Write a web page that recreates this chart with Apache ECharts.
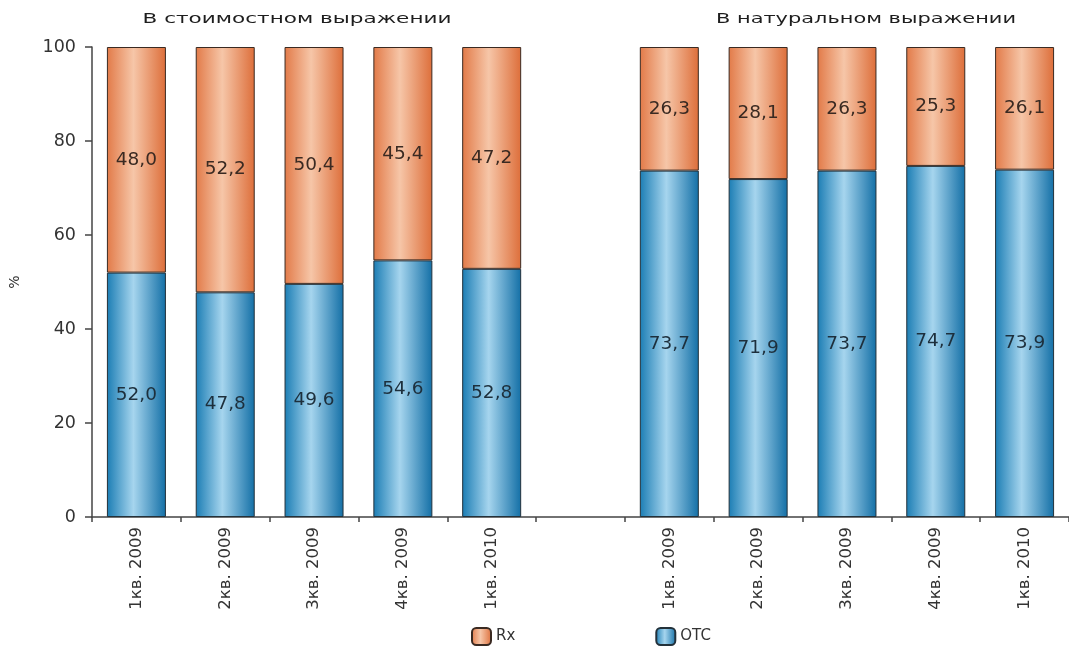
<!DOCTYPE html>
<html>
<head>
<meta charset="utf-8">
<script src="https://cdn.jsdelivr.net/npm/echarts@6/dist/echarts.min.js"></script>
<style>
  html, body { margin: 0; padding: 0; background: #fff; }
  #chart { width: 1069px; height: 653px; }
</style>
</head>
<body>
<div id="chart"></div>
<script>
// Quarter labels; the empty slot separates the two panels
const categories = ['1кв. 2009', '2кв. 2009', '3кв. 2009', '4кв. 2009', '1кв. 2010', '',
                    '1кв. 2009', '2кв. 2009', '3кв. 2009', '4кв. 2009', '1кв. 2010'];
// Shares, %: value terms (first five), gap, volume terms (last five)
const otcValues = [52.0, 47.8, 49.6, 54.6, 52.8, null, 73.7, 71.9, 73.7, 74.7, 73.9];
const rxValues  = [48.0, 52.2, 50.4, 45.4, 47.2, null, 26.3, 28.1, 26.3, 25.3, 26.1];
const yTicks = [0, 20, 40, 60, 80, 100];
const panelTitles = ['В стоимостном выражении', 'В натуральном выражении'];

const FONT = 'DejaVu Sans';
const chart = echarts.init(document.getElementById('chart'));

function barGradient(edgeL, mid, edgeR) {
  return new echarts.graphic.LinearGradient(0, 0, 1, 0, [
    { offset: 0, color: edgeL },
    { offset: 0.45, color: mid },
    { offset: 1, color: edgeR }
  ]);
}
const rxColor = barGradient('#e27a48', '#f6c6a8', '#dd6e3a');
const otcColor = barGradient('#1b7db4', '#a6d5ee', '#136fa6');

// Titles are letter-spaced wide; stretch them to the panel heading width
const ctx = document.createElement('canvas').getContext('2d');
const TITLE_FONT = '14px ' + FONT;
ctx.font = TITLE_FONT;
function titleText(text, cx, targetWidth) {
  const w = ctx.measureText(text).width;
  return {
    type: 'text', x: cx, y: 19, scaleX: targetWidth / w,
    style: { text: text, font: TITLE_FONT, fill: '#1e1e1e', align: 'center', verticalAlign: 'middle' }
  };
}

const labelFmt = p => p.value == null ? '' : p.value.toFixed(1).replace('.', ',');

chart.setOption({
  animation: false,
  backgroundColor: '#fff',
  grid: { left: 90, right: -7, top: 47, bottom: 136 },
  graphic: [
    titleText(panelTitles[0], 297, 309),
    titleText(panelTitles[1], 866, 300)
  ],
  legend: {
    data: ['Rx', 'OTC'],
    left: 466, top: 622,
    itemWidth: 19, itemHeight: 17, itemGap: 140,
    textStyle: { fontFamily: FONT, fontSize: 15, color: '#333' }
  },
  xAxis: {
    type: 'category',
    data: categories,
    axisLine: { lineStyle: { color: '#444', width: 1.5 } },
    axisTick: { show: true, length: 5, inside: false, lineStyle: { color: '#444', width: 1.5 } },
    axisLabel: { rotate: 90, interval: 0, margin: 10, fontFamily: FONT, fontSize: 16.5, color: '#333' }
  },
  yAxis: {
    type: 'value', min: yTicks[0], max: yTicks[yTicks.length - 1], interval: 20,
    name: '%', nameLocation: 'middle', nameGap: 70, nameRotate: 90,
    nameTextStyle: { fontFamily: FONT, fontSize: 14, color: '#333' },
    axisLine: { show: true, lineStyle: { color: '#444', width: 1.5 } },
    axisTick: { show: true, length: 7, lineStyle: { color: '#444', width: 1.5 } },
    axisLabel: { margin: 16, fontFamily: FONT, fontSize: 17.5, color: '#333' },
    splitLine: { show: false }
  },
  series: [
    {
      name: 'OTC', type: 'bar', stack: 'share', data: otcValues, barWidth: 59,
      itemStyle: { color: otcColor, borderColor: '#23313a', borderWidth: 1 },
      label: { show: true, position: 'inside', formatter: labelFmt, fontFamily: FONT, fontSize: 18.5, color: '#1d2f3c' }
    },
    {
      name: 'Rx', type: 'bar', stack: 'share', data: rxValues, barWidth: 59,
      itemStyle: { color: rxColor, borderColor: '#3a2a22', borderWidth: 1 },
      label: { show: true, position: 'inside', formatter: labelFmt, fontFamily: FONT, fontSize: 18.5, color: '#3a2a22' }
    }
  ]
});
</script>
</body>
</html>
